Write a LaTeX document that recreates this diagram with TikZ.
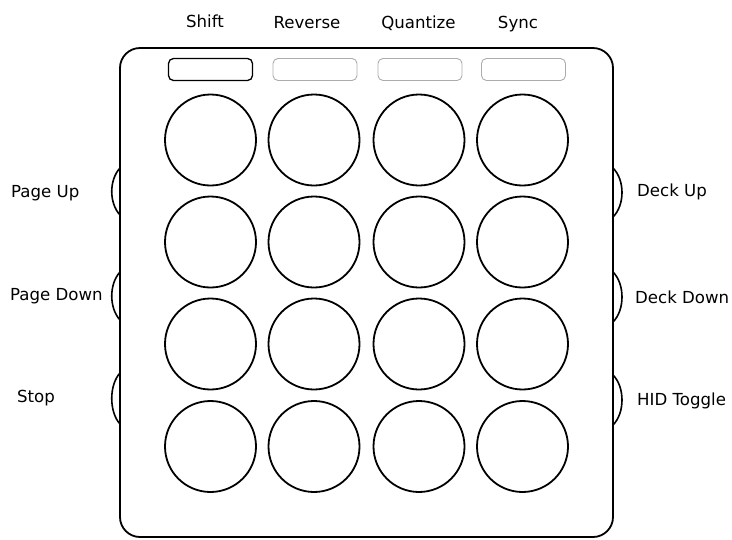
\documentclass[tikz,border=0pt]{standalone}
\usepackage{fontspec}
\setmainfont{DejaVu Sans}
\begin{document}
\begin{tikzpicture}[x=1pt,y=-1pt,
  pad/.style={draw, circle, line width=1.8pt, minimum size=91pt, inner sep=0pt},
  topbtn/.style={draw=gray!65, line width=0.9pt, rounded corners=5pt, minimum width=84pt, minimum height=22pt, inner sep=0pt},
  shiftbtn/.style={topbtn, draw=black, line width=1.3pt},
  lbl/.style={font=\fontsize{16.6}{20}\selectfont, inner sep=0pt},
  bump/.style={line width=1.6pt},
  body/.style={line width=1.8pt, rounded corners=20pt}]
\useasboundingbox (0,0) rectangle (732,539);
% body
\draw[body] (120,48) rectangle (613,537);
% top buttons
\node[shiftbtn] (bshift) at (210.5,69.5) {};
\node[topbtn] (brev) at (315,69.5) {};
\node[topbtn] (bquant) at (420,69.5) {};
\node[topbtn] (bsync) at (523.5,69.5) {};
% top labels
\node[lbl, anchor=base] (tshift) at (205,27) {Shift};
\node[lbl, anchor=base] (trev) at (307,28) {Reverse};
\node[lbl, anchor=base] (tquant) at (418.5,28) {Quantize};
\node[lbl, anchor=base] (tsync) at (518,28) {Sync};
% pads
\foreach \r/\y in {1/140,2/242,3/344,4/446.5}{
  \foreach \c/\x in {1/210.5,2/314,3/419,4/522.5}{
    \node[pad] (p\r\c) at (\x,\y) {};
  }
}
% side buttons
\draw[bump] (120,168) .. controls (109,180) and (109,203) .. (120,215);
\draw[bump] (120,272) .. controls (109,284) and (109,308) .. (120,320);
\draw[bump] (120,373) .. controls (109,385) and (109,412) .. (120,424);
\draw[bump] (613,168) .. controls (625,180) and (625,205) .. (613,217);
\draw[bump] (613,272) .. controls (625,284) and (625,310) .. (613,322);
\draw[bump] (613,375) .. controls (625,387) and (625,413) .. (613,425);
% side labels
\node[lbl, anchor=base west] (lpu) at (11,197) {Page Up};
\node[lbl, anchor=base west] (lpd) at (10,300) {Page Down};
\node[lbl, anchor=base west] (lst) at (17,402) {Stop};
\node[lbl, anchor=base west] (rdu) at (637,196) {Deck Up};
\node[lbl, anchor=base west] (rdd) at (635,303) {Deck Down};
\node[lbl, anchor=base west] (rhid) at (637,405) {HID Toggle};
\end{tikzpicture}
\end{document}
